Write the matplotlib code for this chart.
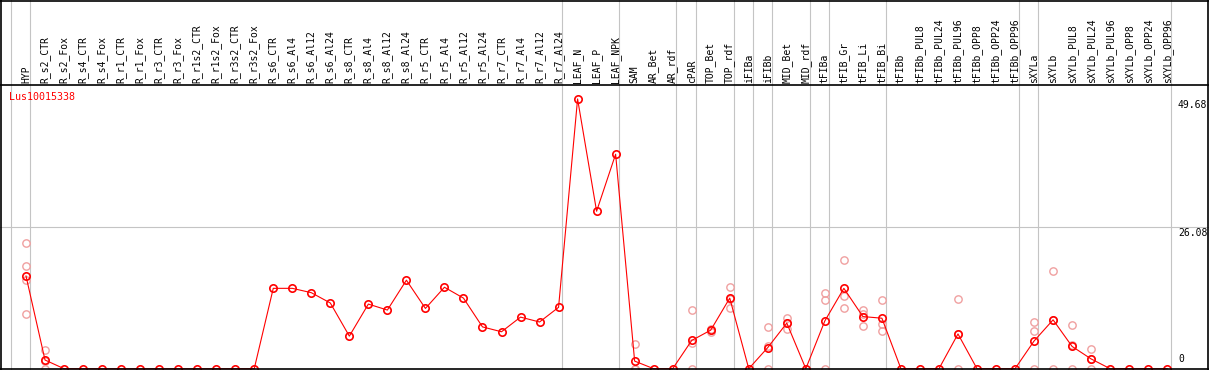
#import libraries
import matplotlib
matplotlib.use("Agg")
import matplotlib.pyplot as plt
import numpy as np

#sample names along the top
categories = ["HYP", "R_s2_CTR", "R_s2_Fox", "R_s4_CTR", "R_s4_Fox", "R_r1_CTR", "R_r1_Fox",
              "R_r3_CTR", "R_r3_Fox", "R_r1s2_CTR", "R_r1s2_Fox", "R_r3s2_CTR", "R_r3s2_Fox",
              "R_s6_CTR", "R_s6_Al4", "R_s6_Al12", "R_s6_Al24", "R_s8_CTR", "R_s8_Al4", "R_s8_Al12",
              "R_s8_Al24", "R_r5_CTR", "R_r5_Al4", "R_r5_Al12", "R_r5_Al24", "R_r7_CTR", "R_r7_Al4",
              "R_r7_Al12", "R_r7_Al24", "LEAF_N", "LEAF_P", "LEAF_NPK", "SAM", "AR_Bet", "AR_rdf",
              "cPAR", "TOP_Bet", "TOP_rdf", "iFIBa", "iFIBb", "MID_Bet", "MID_rdf", "tFIBa",
              "tFIB_Gr", "tFIB_Li", "tFIB_Bi", "tFIBb", "tFIBb_PUL8", "tFIBb_PUL24", "tFIBb_PUL96",
              "tFIBb_OPP8", "tFIBb_OPP24", "tFIBb_OPP96", "sXYLa", "sXYLb", "sXYLb_PUL8",
              "sXYLb_PUL24", "sXYLb_PUL96", "sXYLb_OPP8", "sXYLb_OPP24", "sXYLb_OPP96"]

#mean expression per sample
means = [17.07, 1.6, 0, 0, 0, 0, 0, 0, 0, 0, 0, 0, 0,
         14.8, 14.8, 14.0, 12.1, 6.0, 11.9, 10.8, 16.3, 11.1, 15.0, 13.0, 7.7, 6.8, 9.5, 8.6, 11.3,
         49.68, 29.0, 39.5, 1.4, 0, 0, 5.2, 7.1, 13.0, 0, 3.9, 8.4, 0, 8.8, 14.8, 9.6, 9.3,
         0, 0, 0, 6.4, 0, 0, 0, 5.1, 9.0, 4.1, 1.8, 0, 0, 0, 0]

#individual replicates (faint circles)
rep_samples = ["HYP", "R_s2_CTR", "SAM", "cPAR", "TOP_Bet", "TOP_rdf", "iFIBb", "MID_Bet",
               "tFIBa", "tFIB_Gr", "tFIB_Li", "tFIB_Bi", "tFIBb_PUL96", "sXYLa", "sXYLb",
               "sXYLb_PUL8", "sXYLb_PUL24"]
rep_values = [[23.1, 18.9, 16.3, 10.0], [3.4, 1.4, 0], [4.5, 0, 0], [10.8, 4.8, 0],
              [7.4, 7.1, 6.8], [15.0, 12.9, 11.1], [7.6, 4.1, 0], [9.4, 8.5, 7.3],
              [14.0, 12.7, 0], [20.1, 13.4, 11.1], [10.8, 10.1, 7.9], [12.7, 8.2, 6.9],
              [12.8, 6.4, 0], [8.6, 6.9, 0], [18.0, 9.0, 0], [8.0, 4.3, 0], [3.6, 1.8, 0]]

#groups end after these samples
group_ends = ["HYP", "R_r7_Al24", "LEAF_NPK", "AR_rdf", "cPAR", "TOP_rdf", "iFIBa", "iFIBb",
              "MID_rdf", "tFIBa", "tFIB_Bi", "tFIBb_OPP96", "sXYLa", "sXYLb_OPP96"]

gene = "Lus10015338"
y_labels = [49.68, 26.08, 0]

W, H = 1209, 370
fig = plt.figure(figsize=(W / 100, H / 100), dpi=100)
plot_top = 85
ax = fig.add_axes([0, 0, 1, (H - plot_top) / H])

x = np.arange(len(categories))
ax.set_xlim((0 - 26) / 19.02, (W - 26) / 19.02)
ax.set_ylim(-(H - 368.7) / 5.43, (368.7 - plot_top) / 5.43)
ax.axis("off")

grey = "#c4c4c4"
ext = H / (H - plot_top)

#separator lines run through the header too
seps = [-1] + [categories.index(c) for c in group_ends]
for s in seps:
    ax.axvline(s + 0.2, ymin=0, ymax=ext, color=grey, lw=0.8, clip_on=False, zorder=1)
ax.axhline(26.08, color=grey, lw=0.8, zorder=1)

#replicates
for name, vals in zip(rep_samples, rep_values):
    i = categories.index(name)
    ax.plot([i] * len(vals), vals, "o", ms=5.3, mfc="none", mec="#f0a0a0", mew=1.0,
            clip_on=False, zorder=2)

#mean line
ax.plot(x, means, "-", color="red", lw=0.8, zorder=3, clip_on=False)
ax.plot(x, means, "o", ms=5.3, mfc="none", mec="red", mew=1.2, zorder=4, clip_on=False)

#category labels
for i, c in enumerate(categories):
    ax.text(i, 1 + 2 / (H - plot_top), c, rotation=90, ha="center", va="bottom",
            fontsize=7, family="DejaVu Sans Mono", transform=ax.get_xaxis_transform(),
            clip_on=False)

ax.text(9 / W, 1 - 12 / (H - plot_top), gene, color="red", fontsize=7.2,
        family="DejaVu Sans Mono", ha="left", va="center", transform=ax.transAxes)

#value labels on the right
xr = (1178 - 26) / 19.02
for v in y_labels:
    if v == 0:
        ax.text(xr, v + 0.9, "0", fontsize=7, family="DejaVu Sans Mono", ha="left", va="bottom")
    else:
        ax.text(xr, v - 0.2, "%.2f" % v, fontsize=7, family="DejaVu Sans Mono", ha="left", va="top")

#black frame lines
lines = [([0.5, 0.5], [0, H]), ([W - 1.5, W - 1.5], [0, H]), ([0, W], [H - 0.5, H - 0.5]),
         ([0, W], [H - plot_top, H - plot_top]), ([0, W], [1, 1])]
for xs, ys in lines:
    fig.add_artist(plt.Line2D([p / W for p in xs], [p / H for p in ys], color="black", lw=1.2))

fig.savefig("out.png", dpi=100)
